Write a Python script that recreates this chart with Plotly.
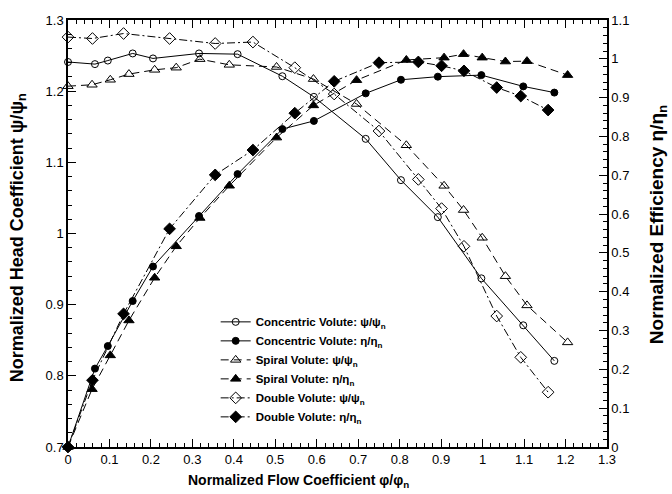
import plotly.graph_objects as go

# Normalized flow coefficient phi/phi_n for each volute test series
conc_phi = [0, 0.065, 0.096, 0.156, 0.205, 0.316, 0.409, 0.517, 0.593, 0.718, 0.803, 0.892, 0.997, 1.098, 1.173]
conc_psi = [1.241, 1.238, 1.243, 1.253, 1.246, 1.253, 1.252, 1.221, 1.192, 1.133, 1.075, 1.023, 0.937, 0.871, 0.821]
conc_eta = [0, 0.202, 0.260, 0.376, 0.465, 0.595, 0.703, 0.819, 0.840, 0.911, 0.946, 0.954, 0.958, 0.929, 0.913]

spiral_phi = [0, 0.058, 0.102, 0.147, 0.209, 0.261, 0.318, 0.389, 0.503, 0.592, 0.696, 0.816, 0.907, 0.954, 0.999, 1.055, 1.107, 1.205]
spiral_psi = [1.207, 1.209, 1.216, 1.224, 1.230, 1.233, 1.245, 1.237, 1.234, 1.217, 1.182, 1.124, 1.067, 1.033, 0.994, 0.940, 0.899, 0.847]
spiral_eta = [0, 0.149, 0.236, 0.326, 0.436, 0.517, 0.590, 0.673, 0.797, 0.880, 0.945, 0.997, 1.003, 1.012, 1.003, 0.993, 0.994, 0.958]

double_phi = [0, 0.059, 0.134, 0.245, 0.355, 0.446, 0.547, 0.642, 0.750, 0.845, 0.901, 0.955, 1.034, 1.092, 1.158]
double_psi = [1.276, 1.274, 1.281, 1.274, 1.267, 1.269, 1.233, 1.196, 1.144, 1.076, 1.035, 0.982, 0.884, 0.826, 0.777]
double_eta = [0, 0.172, 0.343, 0.562, 0.701, 0.765, 0.860, 0.942, 0.990, 0.992, 0.982, 0.969, 0.926, 0.904, 0.868]

FONT = "Liberation Sans, Arial, sans-serif"
BLACK = "#000000"

series = [
    ("Concentric Volute: ψ/ψ<sub>n</sub>", conc_phi, conc_psi, "y", "solid", "circle-open", 7),
    ("Concentric Volute: η/η<sub>n</sub>", conc_phi, conc_eta, "y2", "solid", "circle", 7),
    ("Spiral Volute: ψ/ψ<sub>n</sub>", spiral_phi, spiral_psi, "y", "8px,5px", "triangle-up-open", 9),
    ("Spiral Volute: η/η<sub>n</sub>", spiral_phi, spiral_eta, "y2", "8px,5px", "triangle-up", 9),
    ("Double Volute: ψ/ψ<sub>n</sub>", double_phi, double_psi, "y", "8px,3px,2px,3px", "diamond-open", 9),
    ("Double Volute: η/η<sub>n</sub>", double_phi, double_eta, "y2", "8px,3px,2px,3px", "diamond", 9),
]

fig = go.Figure()
for name, xs, ys, axis, dash, symbol, size in series:
    fig.add_trace(go.Scatter(
        x=xs, y=ys, yaxis=axis, name=name, mode="lines+markers",
        line=dict(color=BLACK, width=1, dash=dash),
        marker=dict(symbol=symbol, size=size, color=BLACK,
                    line=dict(color=BLACK, width=1)),
        cliponaxis=False,
    ))

axis_common = dict(
    showline=True, linecolor=BLACK, linewidth=1.5,
    ticks="inside", ticklen=8, tickwidth=1.2, tickcolor=BLACK,
    showgrid=False, zeroline=False,
    tickfont=dict(family=FONT, size=13, color=BLACK),
    minor=dict(ticks="inside", ticklen=4, tickwidth=1, tickcolor=BLACK, showgrid=False),
)

fig.update_layout(
    width=672, height=494,
    margin=dict(l=68, r=65, t=20, b=47),
    paper_bgcolor="white", plot_bgcolor="white",
    font=dict(family=FONT, color=BLACK),
    showlegend=True,
    legend=dict(
        x=0.274, y=0.327, xanchor="left", yanchor="top",
        bgcolor="rgba(0,0,0,0)", borderwidth=0,
        font=dict(family=FONT, size=11.5, color=BLACK, weight="bold"),
        itemwidth=30, tracegroupgap=0,
    ),
    xaxis=dict(range=[0, 1.3], dtick=0.1, tick0=0, mirror="ticks",
               minor_dtick=0.02, **axis_common),
    yaxis=dict(range=[0.7, 1.3], dtick=0.1, tick0=0.7,
               minor_dtick=0.02, **axis_common),
    yaxis2=dict(range=[0, 1.1], dtick=0.1, tick0=0, overlaying="y", side="right",
                minor_dtick=0.02, **axis_common),
    annotations=[
        dict(text="Normalized Flow Coefficient φ/φ<sub>n</sub>", xref="paper", yref="paper",
             x=(298 - 68) / 539, y=-0.08, xanchor="center", yanchor="middle", showarrow=False,
             font=dict(family=FONT, size=14, color=BLACK, weight="bold")),
        dict(text="Normalized Head Coefficient ψ/ψ<sub>n</sub>", xref="paper", yref="paper",
             x=-0.092, y=0.49, xanchor="center", yanchor="middle", textangle=-90, showarrow=False,
             font=dict(family=FONT, size=18, color=BLACK, weight="bold")),
        dict(text="Normalized Efficiency η/η<sub>n</sub>", xref="paper", yref="paper",
             x=1.095, y=0.52, xanchor="center", yanchor="middle", textangle=-90, showarrow=False,
             font=dict(family=FONT, size=19, color=BLACK, weight="bold")),
    ],
)

fig.write_html("out.html")
